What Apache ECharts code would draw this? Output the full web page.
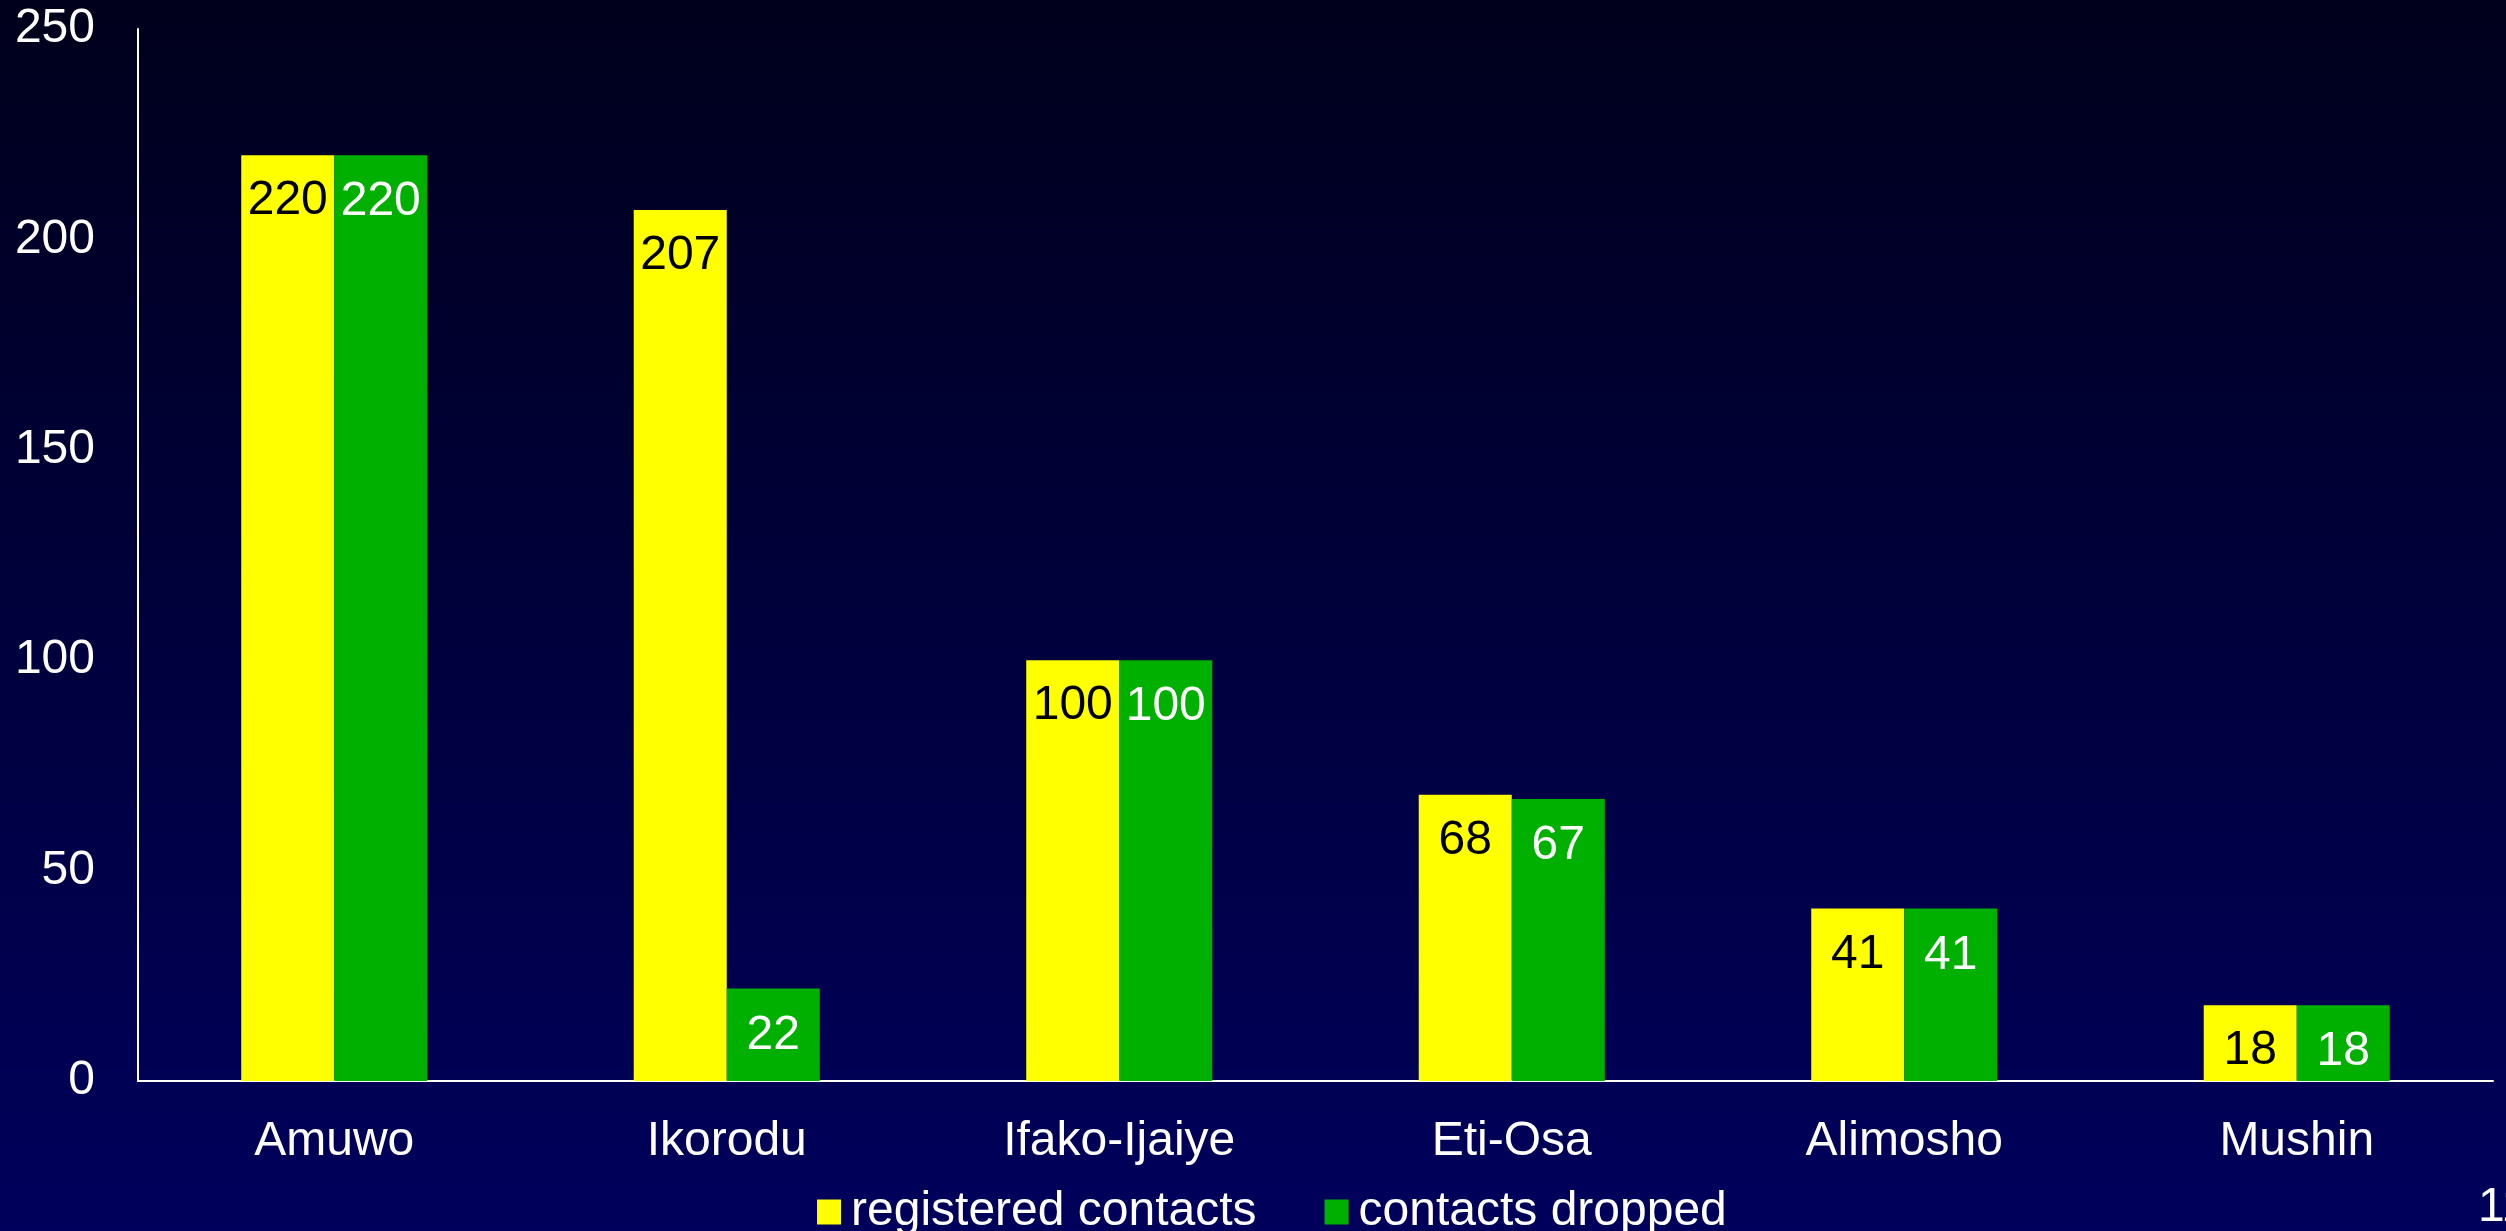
<!DOCTYPE html>
<html>
<head>
<meta charset="utf-8">
<script src="https://cdn.jsdelivr.net/npm/echarts@6/dist/echarts.min.js"></script>
<style>
html,body{margin:0;padding:0;}
#c{width:2506px;height:1231px;}
</style>
</head>
<body>
<div id="c"></div>
<script>
const categories = ['Amuwo', 'Ikorodu', 'Ifako-Ijaiye', 'Eti-Osa', 'Alimosho', 'Mushin'];
const registered = [220, 207, 100, 68, 41, 18];
const dropped = [220, 22, 100, 67, 41, 18];
const seriesNames = ['registered contacts', 'contacts dropped'];
const pageNumber = '11';

const FONT = '"Liberation Sans", Arial, sans-serif';
const FS = 48;
const chart = echarts.init(document.getElementById('c'), null, {renderer: 'canvas'});
chart.setOption({
  animation: false,
  backgroundColor: new echarts.graphic.LinearGradient(0, 0, 0, 1, [
    {offset: 0, color: '#00001c'},
    {offset: 1, color: '#00005c'}
  ]),
  textStyle: {fontFamily: FONT},
  grid: {left: 138, right: 13, top: 29, bottom: 150, containLabel: false},
  legend: {
    left: 812, top: 1183,
    icon: 'rect', itemWidth: 24, itemHeight: 25, itemGap: 68,
    selectedMode: false,
    textStyle: {color: '#ffffff', fontSize: FS, fontFamily: FONT, lineHeight: 48, padding: [0, 0, 0, 5]},
    data: seriesNames
  },
  xAxis: {
    type: 'category', data: categories,
    axisLine: {lineStyle: {color: '#ffffff', width: 2}},
    axisTick: {show: false},
    axisLabel: {color: '#ffffff', fontSize: FS, fontFamily: FONT, margin: 37}
  },
  yAxis: {
    type: 'value', min: 0, max: 250, interval: 50,
    axisLine: {show: true, lineStyle: {color: '#ffffff', width: 2}},
    axisTick: {show: false},
    splitLine: {show: false},
    axisLabel: {color: '#ffffff', fontSize: FS, fontFamily: FONT, margin: 43}
  },
  series: [
    {
      name: seriesNames[0], type: 'bar', data: registered,
      barGap: '0%', barCategoryGap: '52.6%',
      itemStyle: {color: '#ffff00'},
      label: {show: true, position: 'insideTop', distance: 22, color: '#000000', fontSize: FS, fontFamily: FONT}
    },
    {
      name: seriesNames[1], type: 'bar', data: dropped,
      itemStyle: {color: '#00b000'},
      label: {show: true, position: 'insideTop', distance: 23, color: '#ffffff', fontSize: FS, fontFamily: FONT}
    }
  ],
  graphic: [{
    type: 'text', left: 2478, top: 1184,
    style: {text: pageNumber, fill: '#ffffff', font: FS + 'px ' + FONT}
  }]
});
</script>
</body>
</html>
